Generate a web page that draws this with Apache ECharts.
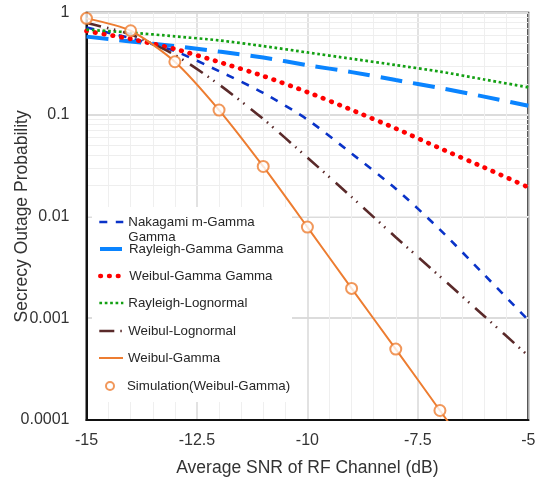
<!DOCTYPE html>
<html>
<head>
<meta charset="utf-8">
<script src="https://cdn.jsdelivr.net/npm/echarts@6/dist/echarts.min.js"></script>
<style>
  html, body { margin: 0; padding: 0; background: #fff; }
  #chart { width: 543px; height: 481px; }
</style>
</head>
<body>
<div id="chart"></div>
<script>
// Average SNR of the RF channel (dB)
const snrDb = [-15, -14, -13, -12, -11, -10, -9, -8, -7, -6, -5];

// Secrecy outage probability per channel model
const nakagamiGammaGamma = [0.716, 0.562, 0.419, 0.267, 0.163, 0.0893, 0.0414, 0.0187, 0.00741, 0.00268, 0.000957];
const rayleighGammaGamma = [0.582, 0.522, 0.471, 0.415, 0.363, 0.305, 0.261, 0.218, 0.182, 0.150, 0.122];
const weibulGammaGamma   = [0.661, 0.552, 0.440, 0.328, 0.239, 0.166, 0.111, 0.0729, 0.0466, 0.0302, 0.0193];
const rayleighLognormal  = [0.681, 0.638, 0.586, 0.535, 0.470, 0.407, 0.353, 0.306, 0.264, 0.221, 0.185];
const weibulLognormal    = [0.792, 0.611, 0.385, 0.197, 0.0904, 0.0378, 0.0155, 0.00624, 0.00257, 0.00105, 0.000427];

// Weibul-Gamma analytical curve (runs past the bottom of the axis)
const weibulGammaSnr = [-15, -14, -13, -12, -11, -10, -9, -8, -7, -6.5];
const weibulGamma    = [0.88, 0.665, 0.330, 0.1107, 0.0309, 0.00785, 0.00196, 0.000497, 0.000124, 0.000062];

// Monte-Carlo points for Weibul-Gamma
const simulationSnr = [-15, -14, -13, -12, -11, -10, -9, -8, -7];
const simulation    = [0.88, 0.665, 0.330, 0.1107, 0.0309, 0.00785, 0.00196, 0.000497, 0.000124];

// Y tick labels, one per decade from 1e-4 to 1
const yTickLabels = ['0.0001', '0.001', '0.01', '0.1', '1'];

const FONT = '"Liberation Sans", Arial, sans-serif';
const pair = (xs, ys) => xs.map((x, i) => [x, ys[i]]);

// minor log grid lines (2..9 within each decade)
const minorLogLines = [];
for (let e = -4; e < 0; e++) {
  for (let m = 2; m <= 9; m++) minorLogLines.push({ yAxis: m * Math.pow(10, e) });
}

const legendText = { fontFamily: FONT, fontSize: 13.3, color: '#262626', lineHeight: 15 };
function legendRow(name, top, extra) {
  return Object.assign({
    data: [name], left: 98, top: top, orient: 'vertical', padding: 0,
    itemWidth: 24, itemHeight: 14, itemGap: 0, selectedMode: false,
    itemStyle: { opacity: 0 },
    textStyle: Object.assign({}, legendText), z: 6
  }, extra || {});
}

const chart = echarts.init(document.getElementById('chart'), null, { renderer: 'canvas' });
chart.setOption({
  animation: false,
  backgroundColor: '#fff',
  grid: {
    left: 86.5, right: 14.7, top: 12.7, bottom: 61, outerBoundsMode: 'none', containLabel: false,
    show: true, borderColor: '#111', borderWidth: 2
  },
  graphic: [{
    type: 'rect', z: 1, left: 92, top: 207, silent: true,
    shape: { width: 200, height: 195 }, style: { fill: '#fff' }
  }],
  legend: [
    legendRow('Nakagami m-Gamma Gamma', 199.5, {
      formatter: () => ' \nNakagami m-Gamma\nGamma',
      lineStyle: { width: 2.6 }
    }),
    legendRow('Rayleigh-Gamma Gamma', 241.5, { lineStyle: { width: 4 } }),
    legendRow('Weibul-Gamma Gamma', 268.5, { lineStyle: { width: 4.7, cap: 'round' } }),
    legendRow('Rayleigh-Lognormal', 295.5, { lineStyle: { width: 2.7 } }),
    legendRow('Weibul-Lognormal', 323.5, { lineStyle: { width: 2.6 } }),
    legendRow('Weibul-Gamma', 350.5, { lineStyle: { width: 2 } }),
    legendRow('Simulation(Weibul-Gamma)', 378.5, { left: 105, itemHeight: 8, itemStyle: {} })
  ],
  xAxis: {
    type: 'value', min: -15, max: -5, interval: 2.5,
    name: 'Average SNR of RF Channel (dB)', nameLocation: 'middle', nameGap: 39,
    nameMoveOverlap: false,
    nameTextStyle: { fontFamily: FONT, fontSize: 17.5, color: '#333' },
    axisLine: { show: true, onZero: false, lineStyle: { color: '#111', width: 2 } },
    axisTick: { show: false },
    axisLabel: { fontFamily: FONT, fontSize: 16, color: '#333', margin: 13 },
    splitLine: { show: true, lineStyle: { color: '#d9d9d9', width: 1.5 } },
    minorTick: { show: false, splitNumber: 5 },
    minorSplitLine: { show: true, lineStyle: { color: '#efefef', width: 1 } }
  },
  yAxis: {
    type: 'log', logBase: 10, min: 0.0001, max: 1,
    name: 'Secrecy Outage Probability', nameLocation: 'middle', nameGap: 55.5,
    nameMoveOverlap: false,
    nameTextStyle: { fontFamily: FONT, fontSize: 17.5, color: '#333' },
    axisLine: { show: true, lineStyle: { color: '#111', width: 2 } },
    axisTick: { show: false },
    axisLabel: {
      fontFamily: FONT, fontSize: 16, color: '#333', margin: 17,
      formatter: v => yTickLabels[Math.round(Math.log10(v)) + 4]
    },
    splitLine: { show: true, lineStyle: { color: '#dcdcdc', width: 2 } }
  },
  series: [
    {
      name: 'minor-grid', type: 'line', data: [], silent: true, z: 0,
      markLine: {
        silent: true, symbol: ['none', 'none'], z: 0, animation: false,
        label: { show: false }, emphasis: { disabled: true },
        lineStyle: { color: '#eeeeee', width: 1, type: 'solid' },
        data: minorLogLines
      }
    },
    {
      name: 'Nakagami m-Gamma Gamma', type: 'line', data: pair(snrDb, nakagamiGammaGamma),
      smooth: 0.25, symbol: 'none', color: '#0a33c8',
      lineStyle: { color: '#0a33c8', width: 2.6, type: [8, 8.5] }
    },
    {
      name: 'Rayleigh-Gamma Gamma', type: 'line', data: pair(snrDb, rayleighGammaGamma),
      smooth: 0.25, symbol: 'none', color: '#0a84ff',
      lineStyle: { color: '#0a84ff', width: 4, type: [22, 11] }
    },
    {
      name: 'Weibul-Gamma Gamma', type: 'line', data: pair(snrDb, weibulGammaGamma),
      smooth: 0.25, symbol: 'none', color: '#ff0000',
      lineStyle: { color: '#ff0000', width: 4.7, type: [0.5, 8.3], cap: 'round' }
    },
    {
      name: 'Rayleigh-Lognormal', type: 'line', data: pair(snrDb, rayleighLognormal),
      smooth: 0.25, symbol: 'none', color: '#13a013',
      lineStyle: { color: '#13a013', width: 2.7, type: [2.7, 2.7] }
    },
    {
      name: 'Weibul-Lognormal', type: 'line', data: pair(snrDb, weibulLognormal),
      smooth: 0.25, symbol: 'none', color: '#5a2a2a',
      lineStyle: { color: '#5a2a2a', width: 2.6, type: [15, 6, 1.5, 5.5, 1.5, 8] }
    },
    {
      name: 'Weibul-Gamma', type: 'line', data: pair(weibulGammaSnr, weibulGamma),
      smooth: 0.25, symbol: 'none', color: '#ed7d31',
      lineStyle: { color: '#ed7d31', width: 2 }, clip: true
    },
    {
      name: 'Simulation(Weibul-Gamma)', type: 'scatter', data: pair(simulationSnr, simulation),
      symbol: 'emptyCircle', symbolSize: 11, color: '#ed7d31', z: 4,
      itemStyle: { color: '#ed7d31', borderColor: '#ed7d31', borderWidth: 2 }
    }
  ]
});
</script>
</body>
</html>
